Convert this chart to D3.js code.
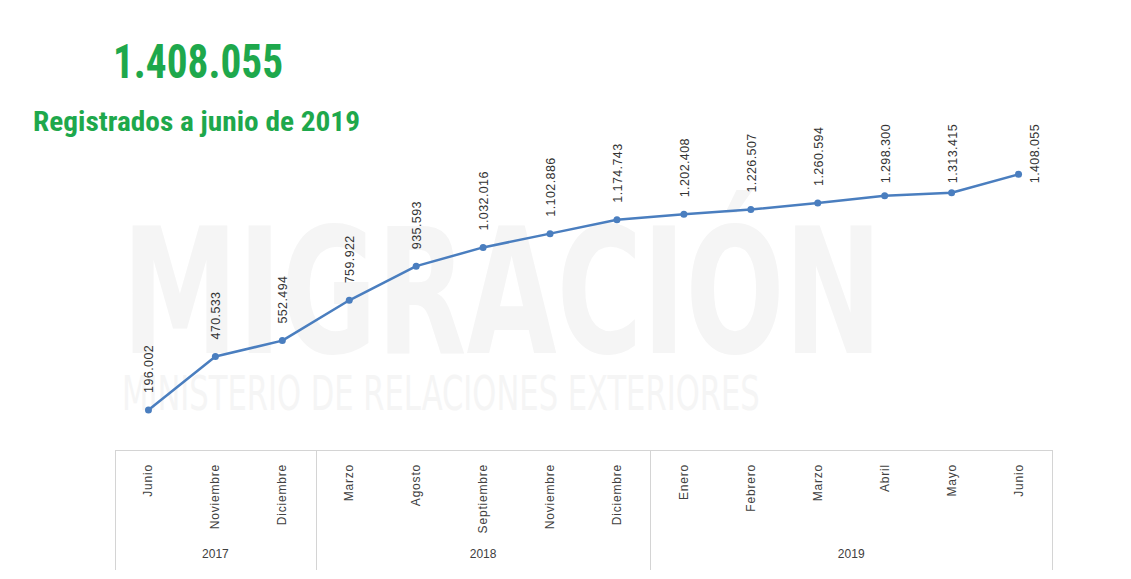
<!DOCTYPE html>
<html>
<head>
<meta charset="utf-8">
<script src="https://cdn.jsdelivr.net/npm/d3@7/dist/d3.min.js"></script>
<style>
  html, body { margin: 0; padding: 0; background: #ffffff; }
  svg { display: block; }
</style>
</head>
<body>
<svg id="chart" width="1131" height="579"></svg>
<script>
// Registered migrants, cumulative count per month
const months = ["Junio", "Noviembre", "Diciembre", "Marzo", "Agosto", "Septiembre", "Noviembre",
                "Diciembre", "Enero", "Febrero", "Marzo", "Abril", "Mayo", "Junio"];
const years = ["2017", "2017", "2017", "2018", "2018", "2018", "2018",
               "2018", "2019", "2019", "2019", "2019", "2019", "2019"];
const registered = [196002, 470533, 552494, 759922, 935593, 1032016, 1102886,
                    1174743, 1202408, 1226507, 1260594, 1298300, 1313415, 1408055];
const headline = "1.408.055";
const subtitle = "Registrados a junio de 2019";

const svg = d3.select("#chart");
const fmt = v => d3.format(",")(v).replace(/,/g, ".");

const x = d3.scaleBand().domain(d3.range(months.length)).range([115, 1052]);
const y = d3.scaleLinear().domain([0, 1600000]).range([448, 137]);
const cx = i => x(i) + x.bandwidth() / 2;

// Faint background watermark, each line squeezed horizontally to its width
const wm = svg.append("g").attr("fill", "#f5f5f5")
  .attr("font-family", "'DejaVu Sans Condensed', 'DejaVu Sans', sans-serif");
[
  { text: "MIGRACIÓN", x: 122, y: 353, size: 150, width: 760, weight: "bold" },
  { text: "MINISTERIO DE RELACIONES EXTERIORES", x: 122, y: 410, size: 48, width: 638, weight: "normal" }
].forEach(w => {
  const t = wm.append("text").attr("font-size", w.size).attr("font-weight", w.weight).text(w.text);
  const sx = w.width / t.node().getComputedTextLength();
  t.attr("transform", `translate(${w.x},${w.y}) scale(${sx},${w.size === 150 ? 1.17 : 1})`);
});

// Headline
const green = "#1ea84c";
svg.append("text").attr("x", 113).attr("y", 78)
  .attr("font-family", "'Liberation Sans Narrow', 'Roboto Condensed', sans-serif")
  .attr("font-weight", "bold").attr("font-size", 48).attr("fill", green)
  .attr("textLength", 170).attr("lengthAdjust", "spacingAndGlyphs").text(headline);
svg.append("text").attr("x", 33).attr("y", 131)
  .attr("font-family", "'Liberation Sans Narrow', 'Roboto Condensed', sans-serif")
  .attr("font-weight", "bold").attr("font-size", 28).attr("fill", green)
  .attr("textLength", 327).attr("lengthAdjust", "spacingAndGlyphs").text(subtitle);

// Category axis frame with year groups
const axisG = svg.append("g").attr("stroke", "#d4d4d4").attr("stroke-width", 1);
const [x0, x1] = x.range();
axisG.append("line").attr("x1", x0).attr("x2", x1).attr("y1", 450.5).attr("y2", 450.5);
const groups = d3.groups(d3.range(years.length), i => years[i]);
const bounds = [x0, ...groups.slice(1).map(g => x(g[1][0])), x1];
axisG.selectAll("line.sep").data(bounds).join("line").attr("class", "sep")
  .attr("x1", d => Math.round(d) + 0.5).attr("x2", d => Math.round(d) + 0.5)
  .attr("y1", 450).attr("y2", 570);

// Month labels
svg.append("g").selectAll("text").data(months).join("text")
  .attr("transform", (d, i) => `translate(${cx(i) + 4},464) rotate(-90)`)
  .attr("text-anchor", "end")
  .attr("font-family", "'Liberation Sans', Arial, sans-serif").attr("font-size", 12)
  .attr("letter-spacing", 0.8).attr("fill", "#404040").text(d => d);

// Year labels
svg.append("g").selectAll("text").data(groups).join("text")
  .attr("x", g => (x(g[1][0]) + x(g[1][g[1].length - 1]) + x.bandwidth()) / 2)
  .attr("y", 558).attr("text-anchor", "middle")
  .attr("font-family", "'Liberation Sans', Arial, sans-serif").attr("font-size", 12)
  .attr("fill", "#404040").text(g => g[0]);

// Series line and markers
const blue = "#4a7ebf";
svg.append("path").datum(registered)
  .attr("d", d3.line().x((d, i) => cx(i)).y(d => y(d)))
  .attr("fill", "none").attr("stroke", blue).attr("stroke-width", 2.5).attr("stroke-linejoin", "round");
svg.append("g").selectAll("circle").data(registered).join("circle")
  .attr("cx", (d, i) => cx(i)).attr("cy", d => y(d)).attr("r", 3.5).attr("fill", blue);

// Value labels: above each point, kept below the chart's top edge;
// a label pushed down onto its marker moves to the marker's right side
const labelTop = 124;
const labels = svg.append("g").selectAll("text").data(registered).join("text")
  .attr("text-anchor", "start")
  .attr("font-family", "'Liberation Sans', Arial, sans-serif").attr("font-size", 12.5)
  .attr("letter-spacing", 0.4).attr("fill", "#333333").text(d => fmt(d));
labels.each(function (d, i) {
  const len = this.getComputedTextLength();
  let bottom = y(d) - 17;
  if (bottom - len < labelTop) bottom = labelTop + len;
  const dx = bottom > y(d) - 5 ? 15 : 0;
  d3.select(this).attr("transform", `translate(${cx(i) + 5 + dx},${bottom}) rotate(-90)`);
});
</script>
</body>
</html>
